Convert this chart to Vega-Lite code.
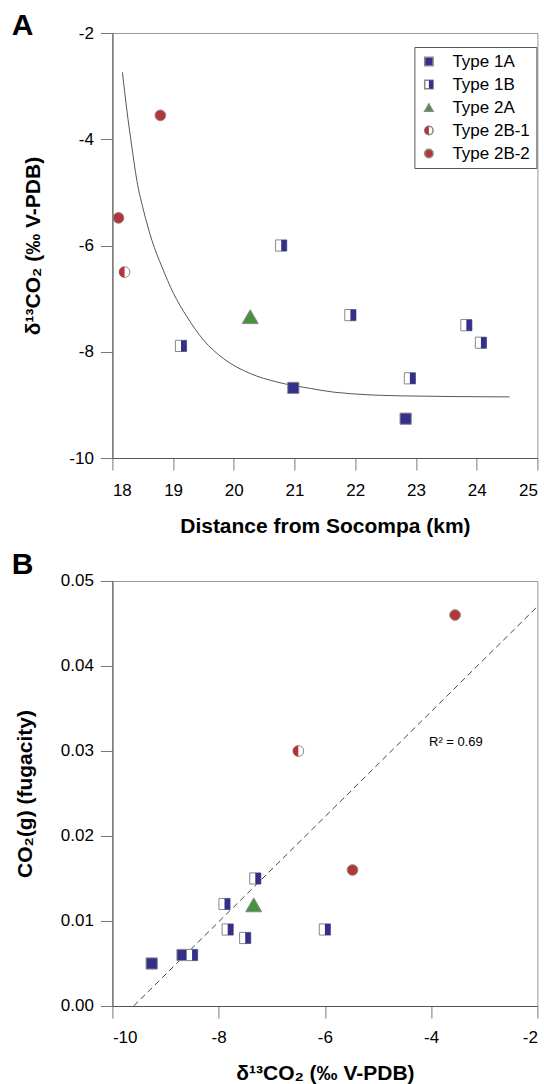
{
  "$schema": "https://vega.github.io/schema/vega-lite/v6.json",
  "padding": {"left": 10.4, "top": 10, "right": 5, "bottom": 0},
  "spacing": 12,
  "columns": 1,
  "align": "all",
  "datasets": {
    "samples": [
      {"Type": "Type 1A", "dist": 20.98, "d13C": -8.68, "fco2": 0.006},
      {"Type": "Type 1A", "dist": 22.83, "d13C": -9.26, "fco2": 0.005},
      {"Type": "Type 1B", "dist": 19.13, "d13C": -7.89, "fco2": 0.012},
      {"Type": "Type 1B", "dist": 20.78, "d13C": -6.0, "fco2": 0.009},
      {"Type": "Type 1B", "dist": 21.92, "d13C": -7.31, "fco2": 0.015},
      {"Type": "Type 1B", "dist": 22.9, "d13C": -8.5, "fco2": 0.006},
      {"Type": "Type 1B", "dist": 23.83, "d13C": -7.5, "fco2": 0.008},
      {"Type": "Type 1B", "dist": 24.07, "d13C": -7.83, "fco2": 0.009},
      {"Type": "Type 2A", "dist": 20.27, "d13C": -7.34, "fco2": 0.0119},
      {"Type": "Type 2B-1", "dist": 18.2, "d13C": -6.5, "fco2": 0.03},
      {"Type": "Type 2B-2", "dist": 18.1, "d13C": -5.48, "fco2": 0.016},
      {"Type": "Type 2B-2", "dist": 18.79, "d13C": -3.55, "fco2": 0.046}
    ],
    "fit": [
      {"dist": 18.165, "d13C": -2.74},
      {"dist": 18.238, "d13C": -3.45},
      {"dist": 18.32, "d13C": -4.14},
      {"dist": 18.402, "d13C": -4.77},
      {"dist": 18.511, "d13C": -5.33},
      {"dist": 18.65, "d13C": -5.9},
      {"dist": 18.815, "d13C": -6.4},
      {"dist": 19.006, "d13C": -6.9},
      {"dist": 19.227, "d13C": -7.34},
      {"dist": 19.501, "d13C": -7.78},
      {"dist": 19.831, "d13C": -8.13},
      {"dist": 20.271, "d13C": -8.41},
      {"dist": 20.712, "d13C": -8.57},
      {"dist": 21.261, "d13C": -8.69},
      {"dist": 21.645, "d13C": -8.76},
      {"dist": 22.745, "d13C": -8.83},
      {"dist": 24.543, "d13C": -8.85}
    ],
    "reg": [
      {"d13C": -9.6, "fco2": 0.0},
      {"d13C": -2.0, "fco2": 0.047}
    ],
    "note": [
      {"d13C": -4.04, "fco2": 0.0306, "label": "R² = 0.69"}
    ]
  },
  "config": {
    "font": "Liberation Sans",
    "view": {"stroke": "#999", "strokeWidth": 1},
    "axis": {
      "grid": false,
      "domainColor": "#555",
      "domainWidth": 1,
      "tickColor": "#777",
      "tickWidth": 1,
      "tickSize": 12,
      "labelFontSize": 17,
      "labelColor": "#000",
      "labelPadding": 7,
      "titleFontSize": 21,
      "titleFontWeight": "bold",
      "titleColor": "#000",
      "titlePadding": 25
    },
    "axisX": {"labelPadding": 12, "titlePadding": 17},
    "title": {"fontSize": 30, "fontWeight": "bold", "anchor": "start", "frame": "group", "dx": -100.6, "color": "#000"},
    "legend": {"labelFontSize": 17, "labelColor": "#000", "symbolSize": 70, "rowPadding": 5, "labelOffset": 15, "padding": 6}
  },
  "concat": [
    {
      "title": {"text": "A", "offset": -17},
      "width": 425,
      "height": 425,
      "layer": [
        {
          "data": {"name": "fit"},
          "mark": {"type": "line", "interpolate": "monotone", "color": "#555", "strokeWidth": 1},
          "encoding": {
            "x": {"field": "dist", "type": "quantitative", "scale": {"domain": [18, 25], "nice": false, "zero": false},
              "axis": {"values": [18, 19, 20, 21, 22, 23, 24, 25], "format": "d", "title": "Distance from Socompa (km)"}},
            "y": {"field": "d13C", "type": "quantitative", "scale": {"domain": [-10, -2], "nice": false, "zero": false},
              "axis": {"values": [-10, -8, -6, -4, -2], "format": "d", "labelExpr": "replace(datum.label, '−', '-')", "title": "δ¹³CO₂ (‰ V-PDB)"}}
          }
        },
        {
          "data": {"name": "samples"},
          "mark": {"type": "point", "filled": true, "opacity": 1, "stroke": "#888", "strokeWidth": 1},
          "encoding": {
            "x": {"field": "dist", "type": "quantitative"},
            "y": {"field": "d13C", "type": "quantitative"},
            "shape": {"field": "Type", "type": "nominal",
              "scale": {"domain": ["Type 1A", "Type 1B", "Type 2A", "Type 2B-1", "Type 2B-2"], "range": ["square", "square", "triangle-up", "circle", "circle"]},
              "legend": {"title": null, "orient": "none", "legendX": 302, "legendY": 14, "strokeColor": "#555",
                "encode": {"symbols": {"stroke": {"value": "#888"}, "strokeWidth": {"value": 1}, "size": {"condition": {"test": "datum.value === 'Type 2A'", "value": 200}, "value": 70}}}}},
            "fill": {"field": "Type", "type": "nominal",
              "scale": {"domain": ["Type 1A", "Type 1B", "Type 2A", "Type 2B-1", "Type 2B-2"], "range": ["#332f8a", "#ffffff", "#45923f", "#ffffff", "#b3353a"]},
              "legend": {"title": null, "orient": "none", "legendX": 302, "legendY": 14, "strokeColor": "#555",
                "encode": {"symbols": {"stroke": {"value": "#888"}, "strokeWidth": {"value": 1}, "size": {"condition": {"test": "datum.value === 'Type 2A'", "value": 200}, "value": 70}}}}},
            "size": {"field": "Type", "type": "nominal",
              "scale": {"type": "ordinal", "domain": ["Type 2B-2", "Type 2B-1", "Type 2A", "Type 1B", "Type 1A"], "range": [115, 115, 256, 125, 125]}, "legend": null}
          }
        },
        {
          "data": {"name": "samples"},
          "mark": {"type": "point", "filled": true, "opacity": 1, "strokeWidth": 0},
          "encoding": {
            "x": {"field": "dist", "type": "quantitative"},
            "y": {"field": "d13C", "type": "quantitative"},
            "shape": {"field": "Type", "type": "nominal",
              "scale": {"domain": ["Type 1A", "Type 1B", "Type 2A", "Type 2B-1", "Type 2B-2"], "range": ["square", "M0,-1H1V1H0Z", "triangle-up", "M0,-1A1,1 0 0 0 0,1Z", "circle"]},
              "legend": {"title": null, "orient": "none", "legendX": 302, "legendY": 14, "labelColor": "transparent",
                "encode": {"symbols": {"strokeWidth": {"value": 0}, "size": {"condition": {"test": "datum.value === 'Type 2A'", "value": 200}, "value": 70}}}}},
            "fill": {"field": "Type", "type": "nominal",
              "scale": {"domain": ["Type 1A", "Type 1B", "Type 2A", "Type 2B-1", "Type 2B-2"], "range": ["transparent", "#332f8a", "transparent", "#b3353a", "transparent"]},
              "legend": {"title": null, "orient": "none", "legendX": 302, "legendY": 14, "labelColor": "transparent",
                "encode": {"symbols": {"strokeWidth": {"value": 0}, "size": {"condition": {"test": "datum.value === 'Type 2A'", "value": 200}, "value": 70}}}}},
            "size": {"field": "Type", "type": "nominal",
              "scale": {"type": "ordinal", "domain": ["Type 2B-2", "Type 2B-1", "Type 2A", "Type 1B", "Type 1A"], "range": [115, 115, 256, 125, 125]}, "legend": null}
          }
        }
      ],
      "resolve": {"scale": {"shape": "independent", "fill": "independent", "size": "independent"}}
    },
    {
      "title": {"text": "B", "offset": -8},
      "width": 425,
      "height": 425,
      "layer": [
        {
          "data": {"name": "reg"},
          "mark": {"type": "line", "color": "#444", "strokeWidth": 1, "strokeDash": [6, 4]},
          "encoding": {
            "x": {"field": "d13C", "type": "quantitative", "scale": {"domain": [-10, -2], "nice": false, "zero": false},
              "axis": {"values": [-10, -8, -6, -4, -2], "format": "d", "labelExpr": "replace(datum.label, '−', '-')", "title": "δ¹³CO₂ (‰ V-PDB)"}},
            "y": {"field": "fco2", "type": "quantitative", "scale": {"domain": [0, 0.05], "nice": false, "zero": false},
              "axis": {"values": [0, 0.01, 0.02, 0.03, 0.04, 0.05], "format": ".2f", "title": "CO₂(g) (fugacity)"}}
          }
        },
        {
          "data": {"name": "note"},
          "mark": {"type": "text", "align": "left", "baseline": "alphabetic", "fontSize": 13, "color": "#000"},
          "encoding": {
            "x": {"field": "d13C", "type": "quantitative"},
            "y": {"field": "fco2", "type": "quantitative"},
            "text": {"field": "label"}
          }
        },
        {
          "data": {"name": "samples"},
          "mark": {"type": "point", "filled": true, "opacity": 1, "stroke": "#888", "strokeWidth": 1},
          "encoding": {
            "x": {"field": "d13C", "type": "quantitative"},
            "y": {"field": "fco2", "type": "quantitative"},
            "shape": {"field": "Type", "type": "nominal",
              "scale": {"domain": ["Type 1A", "Type 1B", "Type 2A", "Type 2B-1", "Type 2B-2"], "range": ["square", "square", "triangle-up", "circle", "circle"]}, "legend": null},
            "fill": {"field": "Type", "type": "nominal",
              "scale": {"domain": ["Type 1A", "Type 1B", "Type 2A", "Type 2B-1", "Type 2B-2"], "range": ["#332f8a", "#ffffff", "#45923f", "#ffffff", "#b3353a"]}, "legend": null},
            "size": {"field": "Type", "type": "nominal",
              "scale": {"type": "ordinal", "domain": ["Type 2B-2", "Type 2B-1", "Type 2A", "Type 1B", "Type 1A"], "range": [115, 115, 256, 125, 125]}, "legend": null}
          }
        },
        {
          "data": {"name": "samples"},
          "mark": {"type": "point", "filled": true, "opacity": 1, "strokeWidth": 0},
          "encoding": {
            "x": {"field": "d13C", "type": "quantitative"},
            "y": {"field": "fco2", "type": "quantitative"},
            "shape": {"field": "Type", "type": "nominal",
              "scale": {"domain": ["Type 1A", "Type 1B", "Type 2A", "Type 2B-1", "Type 2B-2"], "range": ["square", "M0,-1H1V1H0Z", "triangle-up", "M0,-1A1,1 0 0 0 0,1Z", "circle"]}, "legend": null},
            "fill": {"field": "Type", "type": "nominal",
              "scale": {"domain": ["Type 1A", "Type 1B", "Type 2A", "Type 2B-1", "Type 2B-2"], "range": ["transparent", "#332f8a", "transparent", "#b3353a", "transparent"]}, "legend": null},
            "size": {"field": "Type", "type": "nominal",
              "scale": {"type": "ordinal", "domain": ["Type 2B-2", "Type 2B-1", "Type 2A", "Type 1B", "Type 1A"], "range": [115, 115, 256, 125, 125]}, "legend": null}
          }
        }
      ],
      "resolve": {"scale": {"shape": "independent", "fill": "independent", "size": "independent"}}
    }
  ]
}
